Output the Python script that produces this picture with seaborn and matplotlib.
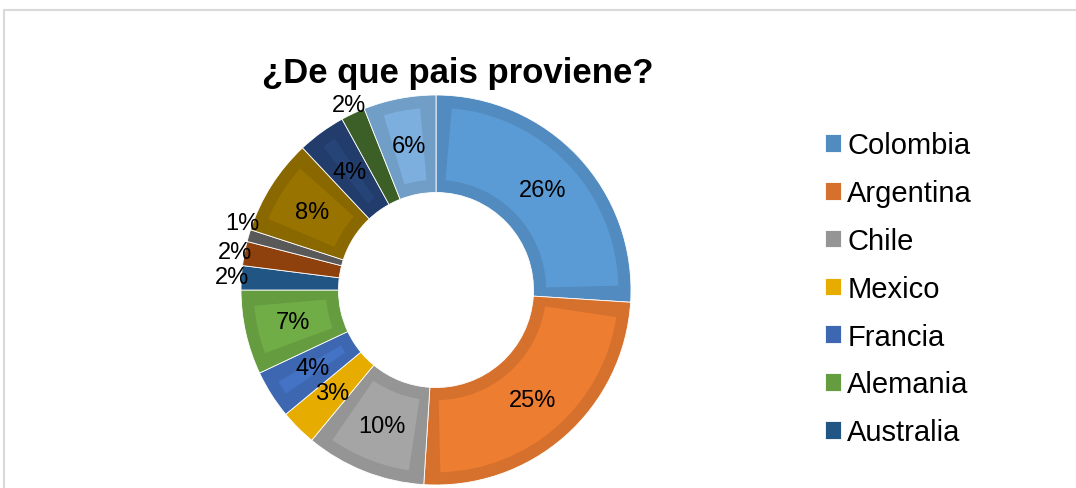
import matplotlib
matplotlib.use('Agg')
import numpy as np
import matplotlib.pyplot as plt
import matplotlib.colors as mcolors
from matplotlib.patches import Wedge, Rectangle
import seaborn as sns

# datos
paises = ['Colombia', 'Argentina', 'Chile', 'Mexico', 'Francia', 'Alemania', 'Australia',
          'Otro 8', 'Otro 9', 'Otro 10', 'Otro 11', 'Otro 12', 'Otro 13']
porcentajes = [26, 25, 10, 3, 4, 7, 2, 2, 1, 8, 4, 2, 6]
colores = ['#5B9BD5', '#ED7D31', '#A5A5A5', '#FFC000', '#4472C4', '#70AD47', '#255E91',
           '#9E480E', '#636363', '#997300', '#264478', '#43682B', '#7CAFDD']
n_leyenda = 7

sns.set_style('white')
plt.rcParams['font.family'] = ['Liberation Sans', 'DejaVu Sans']
plt.rcParams['text.color'] = 'black'

W, H = 1076, 489
fig = plt.figure(figsize=(W / 100, H / 100), dpi=100)

# marco gris claro
fig.add_artist(Rectangle((4 / W, -0.1), 1.1, (H - 11) / H + 0.1, transform=fig.transFigure,
                         fill=False, edgecolor='#d9d9d9', lw=1.5))

cx, cy, R = 436, 291, 195
ax = fig.add_axes([(cx - R) / W, (H - cy - R) / H, 2 * R / W, 2 * R / H])

def oscuro(c, f=0.9):
    r, g, b = mcolors.to_rgb(c)
    return (r * f, g * f, b * f)

pal = sns.color_palette(colores)
bordes = [oscuro(c) for c in pal]

wedges, texts, autotexts = ax.pie(
    porcentajes, colors=bordes, startangle=90, counterclock=False, radius=1,
    wedgeprops=dict(width=0.5, linewidth=0.6, edgecolor='white'),
    autopct='%1.0f%%', pctdistance=0.75,
    textprops=dict(fontsize=17, color='black'))

# relieve: cuña interior mas clara
d = 0.065
for w, c in zip(wedges, pal):
    span = np.radians(w.theta2 - w.theta1) * 0.75
    if span > 2.2 * d:
        dth = np.degrees(d / 0.75)
        ax.add_patch(Wedge((0, 0), 1 - d, w.theta1 + dth, w.theta2 - dth,
                           width=0.5 - 2 * d, facecolor=c, edgecolor='none'))

# etiquetas de las porciones pequeñas fuera del anillo
for t, v, w in zip(autotexts, porcentajes, wedges):
    t.set_zorder(5)
    if v <= 2:
        mid = (w.theta1 + w.theta2) / 2
        if v < 2:
            mid -= 3  # separar el 1% del 2% vecino
        ang = np.radians(mid)
        t.set_position((1.05 * np.cos(ang), 1.05 * np.sin(ang)))

ax.set_xlim(-1, 1)
ax.set_ylim(-1, 1)
ax.set_aspect('equal')
ax.axis('off')

fig.text(458 / W, 1 - 74 / H, '¿De que pais proviene?', ha='center', va='center',
         fontsize=25, fontweight='bold', color='black')

fig.legend(wedges[:n_leyenda], paises[:n_leyenda], loc='upper left',
           bbox_to_anchor=(799 / W, 1 - 106 / H), frameon=False, fontsize=21,
           handlelength=0.55, handleheight=0.55, handletextpad=0.2, labelspacing=0.68,
           labelcolor='black')

fig.savefig('out.png', dpi=100)
